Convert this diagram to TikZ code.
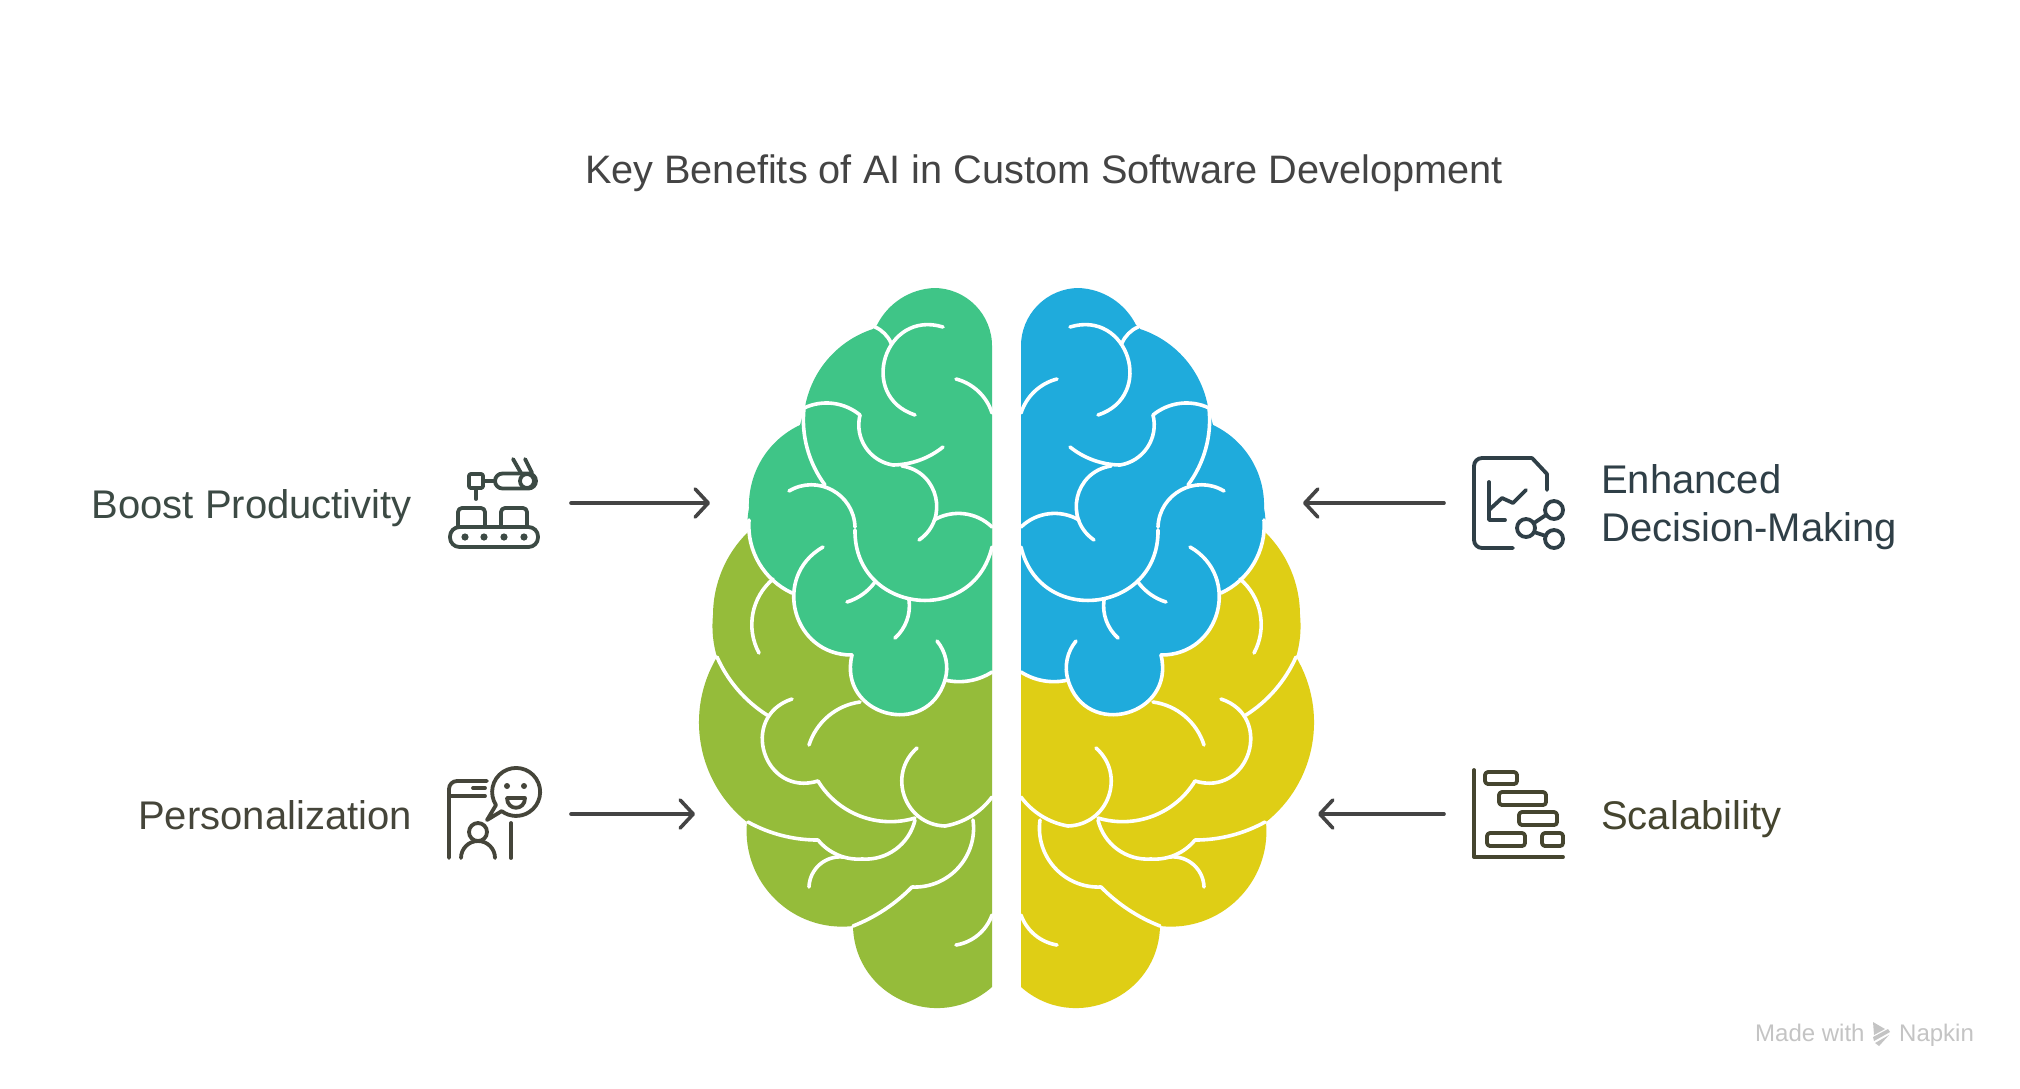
\documentclass[tikz,border=0pt]{standalone}
\usepackage{fontspec}
\setmainfont{Liberation Sans}
\usetikzlibrary{arrows.meta}
\definecolor{brainGreen}{HTML}{3FC587}
\definecolor{brainOlive}{HTML}{95BC3A}
\definecolor{brainBlue}{HTML}{1FABDC}
\definecolor{brainYellow}{HTML}{DFCE15}
\definecolor{inkGrey}{HTML}{444444}
\definecolor{inkRobot}{HTML}{3C4A44}
\definecolor{inkPerson}{HTML}{45453A}
\definecolor{inkChart}{HTML}{2F3F47}
\definecolor{inkBars}{HTML}{45452F}
\definecolor{markGrey}{HTML}{C4C4C4}
\tikzset{
  fold/.style={white,line width=3.6,line cap=round,line join=round},
  icon/.style={line width=3.8,line cap=round,line join=round},
  pointer/.style={draw=inkGrey,line width=3.6,line cap=round,-{Straight Barb[length=13pt,width=28pt,round]}},
  heading/.style={text=inkGrey,font=\fontsize{39.7}{39.7}\selectfont,inner sep=0pt},
  caption/.style={font=\fontsize{40}{48}\selectfont,inner sep=0pt,align=left},
  wmark/.style={text=markGrey,font=\fontsize{24}{24}\selectfont,inner sep=0pt,anchor=base west}
}
% circular arc from a start point through a middle point to an end point
\newcommand{\arcctrl}[6]{%
  \pgfmathsetmacro{\arcL}{veclen(#5-#1,#6-#2)}%
  \pgfmathsetmacro{\arcNx}{(#2-#6)/\arcL}%
  \pgfmathsetmacro{\arcNy}{(#5-#1)/\arcL}%
  \pgfmathsetmacro{\arcH}{(#3-#1)*\arcNx+(#4-#2)*\arcNy}%
  \pgfmathsetmacro{\arcT}{2*\arcH/\arcL}%
  \pgfmathsetmacro{\arcA}{(1-\arcT*\arcT)/3}%
  \pgfmathsetmacro{\arcK}{4*\arcH/3}%
  \pgfmathsetmacro{\arcAx}{#1+\arcA*(#5-#1)+\arcK*\arcNx}\global\let\arcAx\arcAx
  \pgfmathsetmacro{\arcAy}{#2+\arcA*(#6-#2)+\arcK*\arcNy}\global\let\arcAy\arcAy
  \pgfmathsetmacro{\arcBx}{#5-\arcA*(#5-#1)+\arcK*\arcNx}\global\let\arcBx\arcBx
  \pgfmathsetmacro{\arcBy}{#6-\arcA*(#6-#2)+\arcK*\arcNy}\global\let\arcBy\arcBy
}
\def\arcpart(#1,#2)(#3,#4)(#5,#6){\pgfextra{\arcctrl{#1}{#2}{#3}{#4}{#5}{#6}} .. controls (\arcAx,\arcAy) and (\arcBx,\arcBy) .. (#5,#6)}
\def\arcthru(#1,#2){(#1,#2) \arcpart(#1,#2)}
\def\arcnext(#1,#2){-- (#1,#2) \arcpart(#1,#2)}
% one half of the brain, upper colour then lower colour
\newcommand{\brainhalf}[2]{
  \fill[#2] \arcthru(748,532)(723,568)(713,615)
    \arcnext(713,615)(713,637)(717,657)
    \arcnext(717,657)(701,745)(747,822)
    \arcnext(747,822)(775,899)(853,926)
    \arcnext(853,926)(901,1000)(992,987)
    -- (992,520) -- cycle;
  \fill[#1] \arcthru(992,347)(975,305)(934,288)
    \arcnext(934,288)(897,301)(877,325)
    \arcnext(873,329)(827,360)(805,407)
    \arcnext(800,425)(762,459)(749,508)
    \arcnext(749,508)(756,558)(792,593)
    \arcnext(792,593)(810,638)(852,655)
    \arcnext(852,655)(898,716)(945,680)
    \arcnext(945,680)(968,681)(992,672)
    -- cycle;
  % boundary of the upper colour
  \draw[fold] \arcthru(749,520)(756,558)(792,593);
  \draw[fold] \arcthru(823,547)(792,598)(852,655);
  \draw[fold] \arcthru(852,655)(898,716)(945,680);
  \draw[fold] \arcthru(945,680)(968,681)(992,672);
  \draw[fold] \arcthru(945,680)(946,660)(937,641);
  % folds in the upper colour
  \draw[fold] \arcthru(943,327)(882,368)(915,415);
  \draw[fold] \arcthru(875,327)(884,333)(891,343);
  \draw[fold] \arcthru(956,379)(978,391)(992,413);
  \draw[fold] \arcthru(804,408)(830,403)(860,415);
  \draw[fold] \arcthru(860,415)(866,448)(893,465);
  \draw[fold] \arcthru(893,465)(920,460)(943,447);
  \draw[fold] \arcthru(902,466)(937,503)(919,540);
  \draw[fold] \arcthru(934,520)(958,513)(992,527);
  \draw[fold] \arcthru(804,408)(809,455)(825,485);
  \draw[fold] \arcthru(789,491)(832,490)(855,527);
  \draw[fold] \arcthru(855,530)(925,601)(992,547);
  \draw[fold] \arcthru(875,582)(863,594)(847,602);
  \draw[fold] \arcthru(909,600)(907,620)(895,638);
  % folds in the lower colour
  \draw[fold] \arcthru(773,579)(752,618)(759,653);
  \draw[fold] \arcthru(717,657)(738,690)(767,715);
  \draw[fold] \arcthru(792,699)(762,745)(818,781);
  \draw[fold] \arcthru(818,781)(860,816)(915,818);
  \draw[fold] \arcthru(809,745)(826,718)(860,702);
  \draw[fold] \arcthru(917,748)(905,798)(945,826);
  \draw[fold] \arcthru(945,826)(973,815)(992,797);
  \draw[fold] \arcthru(915,820)(896,849)(862,859);
  \draw[fold] \arcthru(862,859)(838,855)(818,840);
  \draw[fold] \arcthru(818,840)(780,835)(748,822);
  \draw[fold] \arcthru(809,887)(818,866)(843,857);
  \draw[fold] \arcthru(973,820)(958,868)(912,887);
  \draw[fold] \arcthru(912,887)(884,910)(853,926);
  \draw[fold] \arcthru(956,945)(978,935)(992,915);
}
\begin{document}
\begin{tikzpicture}[x=1pt,y=-1pt]
\useasboundingbox (0,0) rectangle (2020,1088);
\fill[white] (0,0) rectangle (2020,1088);
\brainhalf{brainGreen}{brainOlive}
\begin{scope}[shift={(2013,0)},xscale=-1]
\brainhalf{brainBlue}{brainYellow}
\end{scope}

\node[heading] (title) at (1044,173.5) {Key Benefits of AI in Custom Software Development};
\node[caption,text=inkRobot,anchor=base east] (boost) at (412,518) {Boost Productivity};
\node[caption,text=inkPerson,anchor=base east] (personal) at (412,829) {Personalization};
\node[caption,text=inkChart,anchor=west] (decide) at (1601,507) {Enhanced\\Decision-Making};
\node[caption,text=inkBars,anchor=base west] (scale) at (1601,829) {Scalability};

\coordinate (boostA) at (571,503);
\coordinate (boostB) at (710,503);
\coordinate (personalA) at (571,814);
\coordinate (personalB) at (695,814);
\coordinate (decideA) at (1444,503);
\coordinate (decideB) at (1303,503);
\coordinate (scaleA) at (1444,814);
\coordinate (scaleB) at (1318,814);
\draw[pointer] (boostA) -- (boostB);
\draw[pointer] (personalA) -- (personalB);
\draw[pointer] (decideA) -- (decideB);
\draw[pointer] (scaleA) -- (scaleB);

% robot arm over a belt
\begin{scope}[icon,draw=inkRobot]
  \draw[rounded corners=2] (469,474) rectangle (483,488);
  \draw (476,488) -- (476,499);
  \draw (483,481) -- (495,481);
  \draw[rounded corners=7.5] (495,473.5) rectangle (536,488.5);
  \draw (527,481) circle[radius=7];
  \draw (513,459) -- (521,473);
  \draw (525,459) -- (532,473);
  \draw[rounded corners=4] (458,527) -- (458,508) -- (485,508) -- (485,527);
  \draw[rounded corners=4] (501,527) -- (501,508) -- (527,508) -- (527,527);
  \draw[rounded corners=9.5] (450,527) rectangle (538,547);
  \foreach \dotx in {465,484,504,524}
    \fill[inkRobot] (\dotx,537) circle[radius=3.6];
\end{scope}

% phone, person and smiling bubble
\begin{scope}[icon,draw=inkPerson]
  \draw[rounded corners=8] (449,858) -- (449,781) -- (487,781);
  \draw (450,796) -- (485,796);
  \draw (473,788) -- (485,788);
  \draw (511,823) -- (511,858);
  \draw (487,820) -- (496,805) arc[start angle=147,end angle=487,radius=24] -- cycle;
  \fill[inkPerson] (507,786) circle[radius=3];
  \fill[inkPerson] (524,786) circle[radius=3];
  \draw (507,798) -- (525,798) .. controls (525,811) and (507,811) .. (507,798);
  \draw (478,832) circle[radius=9];
  \draw (461,858) arc[start angle=180,end angle=360,radius=17];
\end{scope}

% document with chart and share mark
\begin{scope}[icon,draw=inkChart]
  \draw[rounded corners=8] (1513,548) -- (1474,548) -- (1474,458) -- (1532,458);
  \draw (1532,458) -- (1547,474) -- (1547,490);
  \draw (1489,482) -- (1489,520) -- (1505,520);
  \draw (1489,510) -- (1502,498) -- (1513,503) -- (1526,490);
  \draw (1554,510) circle[radius=9];
  \draw (1526,528) circle[radius=9];
  \draw (1554,539) circle[radius=9];
  \draw (1534,523) -- (1546,515);
  \draw (1534,532) -- (1546,536);
\end{scope}

% bars over an axis
\begin{scope}[icon,draw=inkBars]
  \draw (1474,770) -- (1474,857) -- (1563,857);
  \draw[rounded corners=3] (1485,772) rectangle (1517,784);
  \draw[rounded corners=3] (1499,792) rectangle (1546,805);
  \draw[rounded corners=3] (1519,812) rectangle (1557,825);
  \draw[rounded corners=3] (1487,833) rectangle (1525,846);
  \draw[rounded corners=3] (1542,833) rectangle (1563,846);
\end{scope}

\node[wmark] (made) at (1755,1041) {Made with};
\node[wmark] (napkin) at (1899,1041) {Napkin};
\fill[markGrey] (1873,1022) -- (1885,1029) -- (1874,1035) -- cycle;
\fill[markGrey] (1873,1037) -- (1888,1029) -- (1890,1032) -- (1874,1041) -- cycle;
\fill[markGrey] (1875,1043) -- (1889,1035) -- (1879,1046) -- cycle;
\end{tikzpicture}
\end{document}
